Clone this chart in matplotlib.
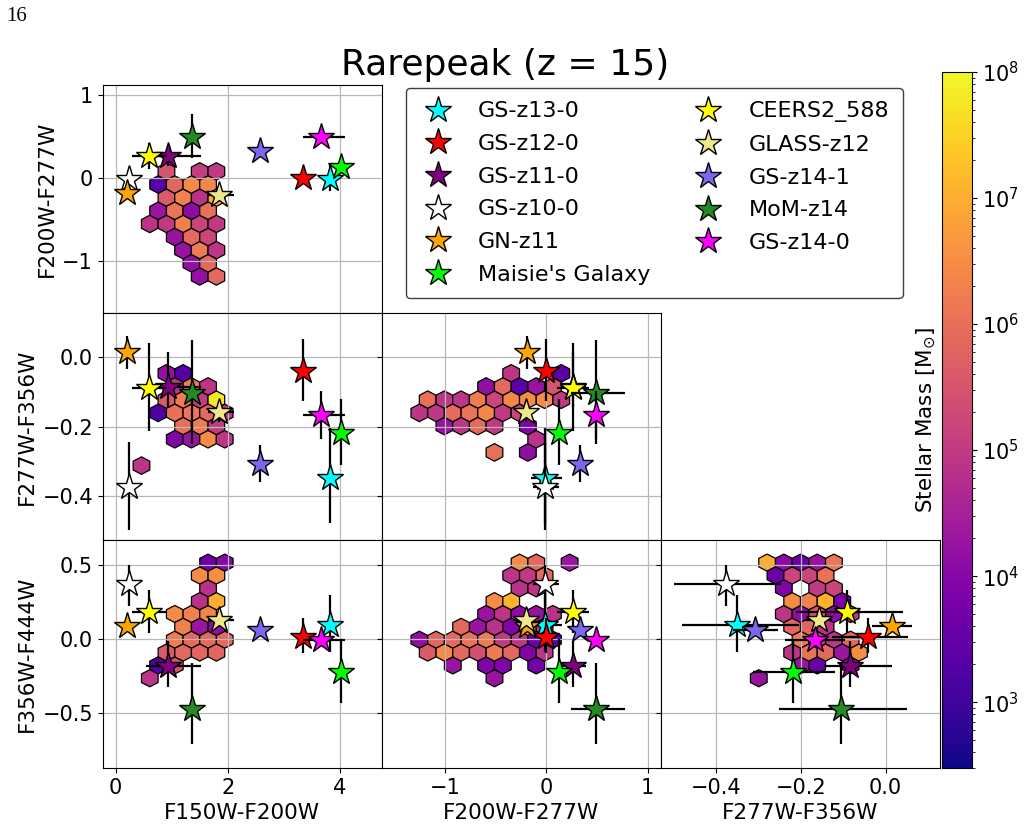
import numpy as np
import matplotlib
matplotlib.use("Agg")
import matplotlib.pyplot as plt
from matplotlib.colors import LogNorm

# ---------------- observed galaxies ----------------
names = ["GS-z13-0", "GS-z12-0", "GS-z11-0", "GS-z10-0", "GN-z11",
         "Maisie's Galaxy", "CEERS2_588", "GLASS-z12", "GS-z14-1",
         "MoM-z14", "GS-z14-0"]
colors = ["cyan", "red", "purple", "white", "orange", "lime", "yellow",
          "khaki", "mediumslateblue", "forestgreen", "magenta"]

c1 = [3.83, 3.34, 0.94, 0.24, 0.21, 4.03, 0.60, 1.84, 2.57, 1.36, 3.66]          # F150W-F200W
c2 = [-0.01, -0.005, 0.265, -0.01, -0.185, 0.13, 0.265, -0.20, 0.33, 0.493, 0.49]  # F200W-F277W
c3 = [-0.350, -0.041, -0.085, -0.376, 0.015, -0.218, -0.090, -0.157, -0.307, -0.104, -0.166]  # F277W-F356W
c4 = [0.095, 0.016, -0.183, 0.370, 0.088, -0.221, 0.185, 0.129, 0.060, -0.473, -0.009]        # F356W-F444W

c1_lo = [0.05, 0.05, 0.40, 0.05, 0.05, 0.05, 0.31, 0.20, 0.05, 0.05, 0.31]
c1_hi = [0.05, 0.05, 0.59, 0.05, 0.05, 0.05, 0.31, 0.28, 0.05, 0.05, 0.44]
c2_lo = [0.14, 0.05, 0.12, 0.12, 0.05, 0.05, 0.16, 0.05, 0.05, 0.25, 0.05]
c2_hi = [0.17, 0.05, 0.13, 0.14, 0.05, 0.05, 0.16, 0.05, 0.05, 0.28, 0.05]
c3_lo = [0.13, 0.085, 0.06, 0.123, 0.048, 0.094, 0.122, 0.03, 0.053, 0.147, 0.07]
c3_hi = [0.145, 0.093, 0.10, 0.13, 0.048, 0.098, 0.132, 0.03, 0.053, 0.155, 0.07]
c4_lo = [0.18, 0.113, 0.14, 0.147, 0.04, 0.21, 0.147, 0.04, 0.04, 0.235, 0.04]
c4_hi = [0.20, 0.124, 0.17, 0.13, 0.04, 0.22, 0.147, 0.04, 0.04, 0.307, 0.04]

# ---------------- simulated hexbin cells (centre, log10 stellar mass) ----------------
# F150W-F200W vs F200W-F277W
hex12_x = [0.907, 1.499, 1.796,
           0.759, 1.055, 1.351, 1.647,
           0.907, 1.203, 1.499, 1.796,
           0.759, 1.055, 1.351, 1.647,
           0.611, 0.907, 1.203, 1.499, 1.796,
           1.055, 1.351, 1.647,
           1.203, 1.499, 1.796,
           1.351, 1.647,
           1.499, 1.796]
hex12_y = [0.080] * 3 + [-0.078] * 4 + [-0.236] * 4 + [-0.394] * 4 + [-0.552] * 5 + \
          [-0.710] * 3 + [-0.868] * 3 + [-1.026] * 2 + [-1.184] * 2
hex12_m = [5.5, 5.05, 5.0,
           3.3, 5.8, 6.45, 6.4,
           5.6, 6.3, 4.85, 7.0,
           4.3, 6.1, 4.1, 6.0,
           4.9, 5.0, 6.25, 5.2, 5.0,
           4.25, 5.9, 5.2,
           4.25, 6.2, 4.9,
           4.15, 5.85,
           4.2, 5.85]

# F150W-F200W vs F277W-F356W
hex13_x = [0.907, 1.203,
           1.055, 1.351, 1.647,
           0.907, 1.203, 1.499, 1.796,
           0.759, 1.055, 1.351, 1.647, 1.944,
           1.203, 1.499, 1.796,
           1.055, 1.351, 1.647, 1.944,
           0.463]
hex13_y = [-0.046] * 2 + [-0.084] * 3 + [-0.122] * 4 + [-0.160] * 5 + [-0.199] * 3 + \
          [-0.237] * 4 + [-0.313]
hex13_m = [4.2, 3.3,
           4.9, 6.2, 4.9,
           5.6, 6.2, 5.0, 7.8,
           3.2, 6.0, 6.1, 5.85, 5.0,
           6.0, 6.2, 5.0,
           3.9, 4.25, 6.5, 4.9,
           4.9]

# F150W-F200W vs F356W-F444W
hex14_x = [1.647, 1.944,
           1.499, 1.796,
           1.647,
           1.499, 1.796,
           1.055, 1.351, 1.647,
           1.203, 1.499, 1.796,
           1.055, 1.351, 1.647, 1.944,
           0.907, 1.203, 1.499, 1.796,
           0.759, 1.055,
           0.611]
hex14_y = [0.517] * 2 + [0.430] * 2 + [0.343] + [0.256] * 2 + [0.169] * 3 + [0.082] * 3 + \
          [-0.005] * 4 + [-0.092] * 4 + [-0.179] * 2 + [-0.266]
hex14_m = [3.6, 4.0,
           6.45, 6.5,
           4.85,
           4.85, 7.0,
           6.45, 6.3, 6.4,
           6.3, 4.3, 4.1,
           6.2, 5.9, 5.9, 5.85,
           5.6, 5.85, 5.8, 5.8,
           3.2, 5.5,
           4.9]

# F200W-F277W vs F277W-F356W
hex23_x = [-0.3455, 0.148,
           -0.592, -0.428, -0.263, -0.099, 0.066,
           -1.168, -1.0035, -0.839, -0.6745, -0.51, -0.3455, -0.181, -0.0165, 0.148,
           -1.25, -1.086, -0.921, -0.757, -0.592, -0.428, -0.263,
           -1.0035, -0.839, -0.6745, -0.51, -0.181,
           -0.099,
           -0.51, -0.181]
hex23_y = [-0.046] * 2 + [-0.084] * 5 + [-0.122] * 9 + [-0.160] * 7 + [-0.199] * 5 + \
          [-0.237] + [-0.275] * 2
hex23_m = [4.9, 3.4,
           4.15, 5.85, 3.4, 4.25, 5.5,
           6.0, 4.9, 4.9, 6.2, 5.2, 6.4, 6.5, 6.45, 5.0,
           4.9, 4.95, 5.9, 6.05, 6.4, 5.0, 5.2,
           4.25, 4.9, 5.9, 5.0, 3.9,
           4.85,
           6.0, 4.15]

# F200W-F277W vs F356W-F444W
hex24_x = [-0.263, -0.099, 0.2305,
           -0.3455, -0.181, -0.0165,
           -0.263, -0.099,
           -0.51, -0.3455,
           -0.592, -0.428, -0.263, -0.099, 0.066,
           -0.839, -0.6745, -0.51, -0.3455, -0.181, -0.0165,
           -1.25, -1.086, -0.921, -0.757, -0.592, -0.428, -0.263, -0.099, 0.066,
           -1.168, -1.0035, -0.839, -0.6745, -0.51, -0.3455, -0.181, -0.0165,
           -0.921, -0.592, -0.428, -0.099,
           -0.51]
hex24_y = [0.517] * 3 + [0.430] * 3 + [0.343] * 2 + [0.256] * 2 + [0.169] * 5 + \
          [0.082] * 6 + [-0.005] * 9 + [-0.092] * 8 + [-0.179] * 4 + [-0.266]
hex24_m = [6.45, 5.85, 4.3,
           4.9, 5.0, 5.9,
           4.85, 4.9,
           6.45, 7.05,
           4.25, 4.9, 4.1, 4.25, 4.85,
           5.85, 4.25, 4.85, 3.9, 6.5, 5.0,
           4.15, 5.8, 5.85, 6.05, 6.2, 5.0, 4.9, 3.6, 3.3,
           5.6, 6.45, 5.85, 5.4, 6.2, 5.85, 3.9, 4.9,
           4.25, 3.9, 3.9, 3.7,
           4.25]

# F277W-F356W vs F356W-F444W
hex34_x = [-0.279, -0.2397, -0.2004, -0.1611, -0.1218,
           -0.2593, -0.220, -0.1807, -0.1415,
           -0.2397, -0.1611, -0.1218,
           -0.220, -0.1807, -0.1415, -0.1022,
           -0.2397, -0.2004, -0.1611, -0.1218, -0.0825,
           -0.220, -0.1807, -0.1415,
           -0.2004, -0.1611, -0.1218, -0.0825,
           -0.220, -0.1807, -0.1415, -0.1022, -0.0629,
           -0.2004, -0.1611, -0.0825,
           -0.2986]
hex34_y = [0.517] * 5 + [0.430] * 4 + [0.343] * 3 + [0.256] * 4 + [0.169] * 5 + \
          [0.082] * 3 + [-0.005] * 4 + [-0.092] * 5 + [-0.179] * 3 + [-0.266]
hex34_m = [7.0, 4.1, 3.6, 4.25, 6.1,
           3.6, 5.2, 5.2, 6.0,
           3.9, 5.0, 5.2,
           6.5, 6.3, 7.05, 3.8,
           4.9, 4.1, 5.5, 4.1, 4.9,
           5.8, 5.8, 4.85,
           6.2, 5.0, 4.9, 5.8,
           4.9, 6.05, 5.85, 4.3, 6.5,
           4.25, 3.6, 4.1,
           4.25]

# ---------------- figure ----------------
plt.rcParams["font.family"] = ["DejaVu Sans"]
fig = plt.figure(figsize=(10.24, 8.26), dpi=100)

L, R, B, T = 0.1003, 0.918, 0.0702, 0.8971
W = (R - L) / 3.0
H = (T - B) / 3.0
norm = LogNorm(vmin=3e2, vmax=1e8)
TICK_FS = 15
LAB_FS = 15.5

xlims = [(-0.23, 4.75), (-1.62, 1.13), (-0.529, 0.128)]
ylims = [(-1.62, 1.12), (-0.529, 0.129), (-0.874, 0.668)]
xticks = [[0, 2, 4], [-1, 0, 1], [-0.4, -0.2, 0.0]]
yticks = [[-1, 0, 1], [-0.4, -0.2, 0.0], [-0.5, 0.0, 0.5]]
xlabels = ["F150W-F200W", "F200W-F277W", "F277W-F356W"]
ylabels = ["F200W-F277W", "F277W-F356W", "F356W-F444W"]

cols = [c1, c2, c3, c4]
lo_err = [c1_lo, c2_lo, c3_lo, c4_lo]
hi_err = [c1_hi, c2_hi, c3_hi, c4_hi]


def lattice_extent(origin, step, n_before, n):
    lo = origin - n_before * step
    return lo, lo + n * step


NX, NY = 20, 11
# (row, col, cells x, cells y, log mass, x-lattice origin, x-step, y-lattice origin, y-step)
panels = [
    (0, 0, hex12_x, hex12_y, hex12_m, 0.907, 0.297, 0.080, 0.316),
    (1, 0, hex13_x, hex13_y, hex13_m, 0.907, 0.297, -0.0463, 0.0762),
    (2, 0, hex14_x, hex14_y, hex14_m, 0.759, 0.297, 0.517, 0.174),
    (1, 1, hex23_x, hex23_y, hex23_m, -1.168, 0.1645, -0.0463, 0.0762),
    (2, 1, hex24_x, hex24_y, hex24_m, -1.25, 0.1645, 0.517, 0.174),
    (2, 2, hex34_x, hex34_y, hex34_m, -0.2397, 0.0393, 0.517, 0.174),
]

hb = None
legend_handles = []
for (row, col, hx, hy, hm, xo, xs, yo, ys) in panels:
    ax = fig.add_axes([L + col * W, T - (row + 1) * H, W, H])
    xmin, xmax = lattice_extent(xo, xs, 8, NX)
    ymin, ymax = lattice_extent(yo, ys, 9, NY)
    hb = ax.hexbin(np.array(hx), np.array(hy), C=10 ** np.array(hm),
                   gridsize=(NX, NY), extent=(xmin, xmax, ymin, ymax),
                   cmap="plasma", norm=norm, edgecolors="k", linewidths=0.9,
                   reduce_C_function=np.mean, zorder=1)

    xv = cols[col]
    yv = cols[row + 1]
    for i in range(len(names)):
        ax.errorbar([xv[i]], [yv[i]],
                    xerr=[[lo_err[col][i]], [hi_err[col][i]]],
                    yerr=[[lo_err[row + 1][i]], [hi_err[row + 1][i]]],
                    fmt="none", ecolor="k", elinewidth=1.6, capsize=0,
                    zorder=3 + 2 * i)
        ln, = ax.plot([xv[i]], [yv[i]], ls="none", marker="*", ms=20,
                      mfc=colors[i], mec="k", mew=1.0, zorder=4 + 2 * i,
                      label=names[i])
        if row == 0 and col == 0:
            legend_handles.append(ln)

    ax.set_xlim(*xlims[col])
    ax.set_ylim(*ylims[row])
    ax.set_xticks(xticks[col])
    ax.set_yticks(yticks[row])
    ax.grid(True, color="#b8b8b8", lw=0.9)
    ax.tick_params(labelsize=TICK_FS)
    if row == 2:
        ax.set_xlabel(xlabels[col], fontsize=LAB_FS)
    else:
        ax.tick_params(labelbottom=False)
    if col == 0:
        ax.set_ylabel(ylabels[row], fontsize=LAB_FS)
    else:
        ax.tick_params(labelleft=False)

# colour bar
cax = fig.add_axes([0.9199, 0.0702, 0.0293, 0.8426])
cb = fig.colorbar(hb, cax=cax)
cb.ax.tick_params(labelsize=TICK_FS)
cb.ax.yaxis.set_label_position("left")
cb.set_label(r"Stellar Mass [M$_{\odot}$]", fontsize=LAB_FS, labelpad=3)

# legend
fig.legend(handles=legend_handles, labels=names, loc="upper left",
           bbox_to_anchor=(0.3965, 0.8935), bbox_transform=fig.transFigure,
           ncol=2, fontsize=16, labelspacing=0.57, handlelength=1.64,
           handletextpad=1.0, columnspacing=1.79, borderpad=0.6,
           borderaxespad=0.0, framealpha=1.0, edgecolor="0.25", fancybox=True)

fig.text(0.493, 0.9213, "Rarepeak (z = 15)", fontsize=26, ha="center", va="center")
fig.text(0.006, 0.9915, "16", fontsize=15, family="Liberation Serif", ha="left", va="top")

fig.savefig("out.png", dpi=100)
